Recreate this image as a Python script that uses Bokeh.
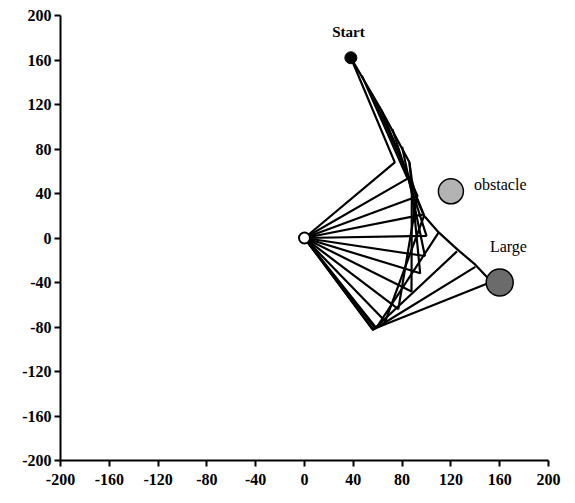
from bokeh.plotting import figure
from bokeh.models import Range1d, FixedTicker
from bokeh.embed import file_html
from bokeh.resources import INLINE
from bokeh.core.properties import value

# tick values and labels
ticks = [-200, -160, -120, -80, -40, 0, 40, 80, 120, 160, 200]
tick_labels = ["-200", "-160", "-120", "-80", "-40", "0", "40", "80", "120", "160", "200"]

# arm configurations: base (0,0) -> elbow -> end effector
elbow_x = [74, 84.5, 92.7, 97.7, 100, 98.7, 94.8, 87.7, 76.9, 66.2, 58.8, 56.2, 58, 56]
elbow_y = [68, 53.4, 37.5, 21.3, 1.9, -16.2, -31.7, -48, -63.9, -74.9, -80.9, -82.7, -81.4, -82]
end_x = [38, 47, 55, 63, 72, 80, 86, 88, 92, 98, 110, 125, 140, 152]
end_y = [162, 146, 130, 115, 98, 82, 68, 52, 35, 20, 5, -12, -26, -40]

# end effector path
path_x = [38, 63, 86, 88, 92, 98, 110, 125, 140, 152, 160]
path_y = [162, 115, 68, 52, 35, 20, 5, -10, -24, -38, -40]

start = (38, 162)
obstacle = (120, 42)
goal = (160, -40)
base = (0, 0)

serif = value("Liberation Serif")

p = figure(width=567, height=495, output_backend="svg", toolbar_location=None,
           x_range=Range1d(-200, 200), y_range=Range1d(-200, 200),
           min_border_left=60, min_border_right=19, min_border_top=15, min_border_bottom=35)
p.outline_line_color = None
p.xgrid.visible = False
p.ygrid.visible = False
p.background_fill_color = "white"

for ax in (p.xaxis[0], p.yaxis[0]):
    ax.ticker = FixedTicker(ticks=ticks)
    ax.major_label_overrides = dict(zip(ticks, tick_labels))
    ax.axis_line_width = 2
    ax.axis_line_color = "black"
    ax.major_tick_line_width = 2
    ax.major_tick_line_color = "black"
    ax.major_tick_out = 6
    ax.major_tick_in = 0
    ax.minor_tick_line_color = None
    ax.major_label_text_font = "Liberation Serif"
    ax.major_label_text_font_style = "bold"
    ax.major_label_text_font_size = "16px"
    ax.major_label_text_color = "black"
p.xaxis.major_label_standoff = 7
p.yaxis.major_label_standoff = 3

xs = [[base[0], ex, px] for ex, px in zip(elbow_x, end_x)]
ys = [[base[1], ey, py] for ey, py in zip(elbow_y, end_y)]
p.multi_line(xs, ys, line_color="black", line_width=2.2)
p.line(path_x, path_y, line_color="black", line_width=2.2)

p.scatter([obstacle[0]], [obstacle[1]], size=25, fill_color="#b3b3b3", line_color="black", line_width=1.5)
p.scatter([goal[0]], [goal[1]], size=27, fill_color="#6b6b6b", line_color="black", line_width=1.5)
p.scatter([start[0]], [start[1]], size=12, fill_color="black", line_color="black")
p.scatter([base[0]], [base[1]], size=11, fill_color="white", line_color="black", line_width=2)

p.text([36], [185], text=["Start"], text_font=serif, text_font_style="bold",
       text_font_size="15px", text_align="center", text_baseline="middle", text_color="black")
p.text([139], [48], text=["obstacle"], text_font=serif,
       text_font_size="16px", text_align="left", text_baseline="middle", text_color="black")
p.text([152], [-8], text=["Large"], text_font=serif,
       text_font_size="16px", text_align="left", text_baseline="middle", text_color="black")

open("out.html", "w").write(file_html(p, INLINE))
